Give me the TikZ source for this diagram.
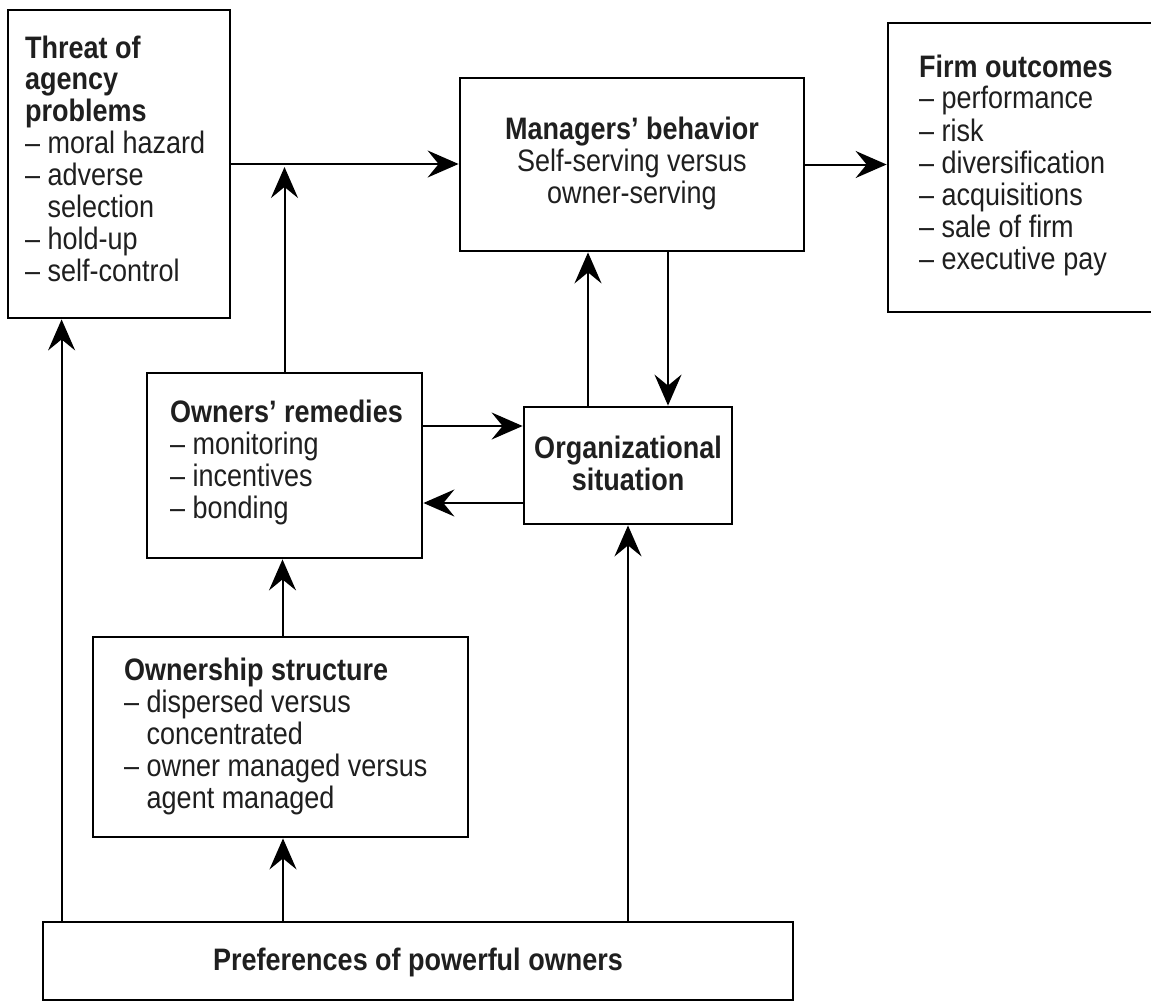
\documentclass[tikz,border=0pt]{standalone}
\usepackage{graphicx}
\usepackage{fontspec}
\setmainfont{Liberation Sans}
\usetikzlibrary{arrows.meta}
% text in this chart is set slightly taller than the regular face
\newcommand{\tallbox}[1]{\scalebox{1}[1.15]{#1}}
\begin{document}
\begin{tikzpicture}[x=1pt,y=-1pt,
  box/.style={draw, line width=2.8pt, rectangle, inner sep=0pt, fill=white},
  txt/.style={inner sep=0pt, font=\fontsize{27}{27.6}\selectfont, text=black!88},
  arr/.style={line width=2pt, -{Stealth[length=31pt, width=27pt, inset=11pt]}}]
\clip (0,0) rectangle (1151,1002);
\fill[white] (0,0) rectangle (1151,1002);
\renewcommand{\arraystretch}{1}
% boxes
\node[box, minimum width=222pt, minimum height=308pt] (threat) at (119,164) {};
\node[box, minimum width=344pt, minimum height=173pt] (mgr) at (632,164.5) {};
\node[box, minimum width=272pt, minimum height=289pt] (firm) at (1024,167.5) {};
\node[box, minimum width=275pt, minimum height=185pt] (rem) at (284.5,465.5) {};
\node[box, minimum width=208pt, minimum height=117pt] (org) at (628,465.5) {};
\node[box, minimum width=375pt, minimum height=200pt] (own) at (280.5,737) {};
\node[box, minimum width=750pt, minimum height=78pt] (pref) at (418,961) {};
% texts
\node[txt, anchor=base west] (threatT) at (25,58) {\tallbox{\begin{tabular}[t]{@{}l@{}}\bfseries Threat of\\ \bfseries agency\\ \bfseries problems\\ – moral hazard\\ – adverse\\ \phantom{– }selection\\ – hold-up\\ – self-control\end{tabular}}};
\node[txt, anchor=base] (mgrT) at (632,139) {\tallbox{\begin{tabular}[t]{@{}c@{}}\bfseries Managers’ behavior\\ Self-serving versus\\ owner-serving\end{tabular}}};
\node[txt, anchor=base west] (firmT) at (919,77) {\tallbox{\begin{tabular}[t]{@{}l@{}}\bfseries Firm outcomes\\ – performance\\ – risk\\ – diversification\\ – acquisitions\\ – sale of firm\\ – executive pay\end{tabular}}};
\node[txt, anchor=base west] (remT) at (170,422) {\tallbox{\begin{tabular}[t]{@{}l@{}}\bfseries Owners’ remedies\\ – monitoring\\ – incentives\\ – bonding\end{tabular}}};
\node[txt, anchor=base] (orgT) at (628,458) {\tallbox{\begin{tabular}[t]{@{}c@{}}\bfseries Organizational\\ \bfseries situation\end{tabular}}};
\node[txt, anchor=base west] (ownT) at (124,680) {\tallbox{\begin{tabular}[t]{@{}l@{}}\bfseries Ownership structure\\ – dispersed versus\\ \phantom{– }concentrated\\ – owner managed versus\\ \phantom{– }agent managed\end{tabular}}};
\node[txt, anchor=base] (prefT) at (418,970) {\tallbox{\bfseries Preferences of powerful owners}};
% connectors
\draw[arr] (threat.east) -- (threat.east -| mgr.west);
\draw[arr] (rem.north) -- ([yshift=-3pt]rem.north |- threat.east);
\draw[arr] (mgr.east) -- (mgr.east -| firm.west);
\draw[arr] ([xshift=-40pt]org.north) -- ([xshift=-40pt]org.north |- mgr.south);
\draw[arr] ([xshift=40pt]org.north |- mgr.south) -- ([xshift=40pt]org.north);
\draw[arr] ([yshift=39.5pt]rem.east) -- ([yshift=39.5pt]rem.east -| org.west);
\draw[arr] ([yshift=-37.5pt]org.west) -- ([yshift=-37.5pt]org.west -| rem.east);
\draw[arr] ([xshift=2pt]own.north) -- ([xshift=2pt]own.north |- rem.south);
\draw[arr] ([xshift=2.5pt]own.south |- pref.north) -- ([xshift=2.5pt]own.south);
\draw[arr] ([xshift=20pt]pref.north west) -- ([xshift=20pt]pref.north west |- threat.south);
\draw[arr] (org.south |- pref.north) -- (org.south);
\end{tikzpicture}
\end{document}
